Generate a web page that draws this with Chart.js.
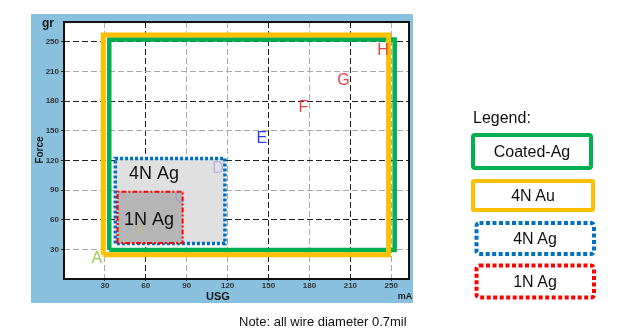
<!DOCTYPE html>
<html>
<head>
<meta charset="utf-8">
<script src="https://cdn.jsdelivr.net/npm/chart.js@4"></script>
<style>
  body { margin: 0; width: 619px; height: 332px; background: #fff; position: relative; overflow: hidden; font-family: Arial, "Liberation Sans", sans-serif; }
  #panel { position: absolute; left: 31px; top: 14px; width: 382px; height: 289px; background: #88c0de; }
  #legend { position: absolute; left: 0; top: 0; }
  #note { position: absolute; left: 239px; top: 314px; font-size: 13px; color: #111; white-space: nowrap; }
</style>
</head>
<body>
<div id="panel"><canvas id="chart"></canvas></div>
<svg id="legend" width="619" height="332"></svg>
<div id="note">Note: all wire diameter 0.7mil</div>
<script>
// Window boxes: [left, right] on USG, [bottom, top] on Force (grid units)
const boxNames = ['Coated-Ag', '4N Au', '4N Ag', '1N Ag'];
const boxUSG = [[33.2, 242.5], [28.8, 238], [37.6, 118], [39.3, 87]];
const boxForce = [[29.3, 242.4], [24.6, 246.8], [35.8, 122], [36.4, 88.2]];

// Test points A..H
const pointNames = ['A', 'B', 'C', 'D', 'E', 'F', 'G', 'H'];
const pointUSG = [24, 55, 85, 113, 145, 175.5, 205, 234];
const pointForce = [21, 50, 82, 112, 142.5, 173, 201, 231];

// Tick positions and the labels printed on them
const xTickValues = [30, 60, 90, 120, 150, 180, 210, 240];
const xTickLabels = ['30', '60', '90', '120', '150', '180', '210', '250'];
const yTickValues = [30, 60, 90, 120, 150, 180, 210, 240];
const yTickLabels = ['30', '60', '90', '120', '150', '180', '210', '250'];

// Text inside the boxes
const boxTextNames = ['4N Ag', '1N Ag'];
const boxTextUSG = [47.6, 44];
const boxTextForce = [106, 59.2];

// styles
const boxColors = ['#00b050', '#ffc000', '#0070c0', '#ff0000'];
const boxFills = [null, null, '#e0e0e0', '#b5b5b5'];
const boxWidths = [4.5, 5, 3.5, 2];
const boxDashes = [[], [], [3, 2], [5, 2, 2, 2]];
const boxOrder = [2, 1, 4, 3];
const pointColors = ['#92d050', 'rgba(200,190,90,0.35)', 'rgba(140,130,230,0.35)', 'rgba(140,130,230,0.45)',
                     '#2b3df0', '#f04040', '#f04040', '#f04040'];
const xGridColors = ['#aaa', '#222', '#aaa', '#aaa', '#222', '#aaa', '#222', '#aaa'];
const yGridColors = ['#aaa', '#222', '#aaa', '#222', '#aaa', '#222', '#aaa', '#222'];

function boxPath(i) {
    const [l, r] = boxUSG[i];
    const [b, t] = boxForce[i];
    return [{x: l, y: b}, {x: l, y: t}, {x: r, y: t}, {x: r, y: b}, {x: l, y: b}];
}

const datasets = boxNames.map((name, i) => ({
    label: name,
    data: boxPath(i),
    borderColor: boxColors[i],
    borderWidth: boxWidths[i],
    borderDash: boxDashes[i],
    borderJoinStyle: 'miter',
    backgroundColor: boxFills[i] || 'transparent',
    fill: boxFills[i] ? 'shape' : false,
    pointRadius: 0,
    tension: 0,
    order: boxOrder[i]
}));

const extras = {
    id: 'extras',
    beforeDraw(chart) {
        const {ctx, chartArea: a} = chart;
        ctx.save();
        ctx.fillStyle = '#fff';
        ctx.fillRect(a.left, a.top, a.right - a.left, a.bottom - a.top);
        ctx.restore();
    },
    afterDatasetsDraw(chart) {
        const {ctx, chartArea: a, scales: {x, y}} = chart;
        ctx.save();
        // letters
        ctx.font = '16px Arial';
        ctx.textAlign = 'center';
        ctx.textBaseline = 'middle';
        pointNames.forEach((n, i) => {
            ctx.fillStyle = pointColors[i];
            ctx.fillText(n, x.getPixelForValue(pointUSG[i]), y.getPixelForValue(pointForce[i]));
        });
        // box texts
        ctx.font = '18px Arial';
        ctx.textAlign = 'left';
        ctx.fillStyle = '#111';
        boxTextNames.forEach((n, i) => {
            ctx.fillText(n, x.getPixelForValue(boxTextUSG[i]), y.getPixelForValue(boxTextForce[i]));
        });
        // frame
        ctx.strokeStyle = '#111';
        ctx.lineWidth = 2;
        ctx.strokeRect(a.left, a.top, a.right - a.left, a.bottom - a.top);
        // axis captions
        ctx.fillStyle = '#1a1a1a';
        ctx.textAlign = 'center';
        ctx.font = 'bold 12px Arial';
        ctx.fillText('gr', 17, 10);
        ctx.font = 'bold 11px Arial';
        ctx.fillText('USG', 187, 283);
        ctx.font = 'bold 9px Arial';
        ctx.fillText('mA', 374, 283);
        ctx.translate(9, 136);
        ctx.rotate(-Math.PI / 2);
        ctx.font = 'bold 10px Arial';
        ctx.fillText('Force', 0, 0);
        ctx.restore();
    }
};

const tickFont = {family: 'Arial', size: 8, weight: 'bold'};

new Chart(document.getElementById('chart'), {
    type: 'line',
    data: {datasets},
    options: {
        responsive: true,
        maintainAspectRatio: false,
        animation: false,
        layout: {padding: {top: 8, right: 4, left: 0, bottom: 0}},
        plugins: {legend: {display: false}, tooltip: {enabled: false}},
        scales: {
            x: {
                type: 'linear',
                min: 0,
                max: 253,
                afterBuildTicks: s => { s.ticks = xTickValues.map(v => ({value: v})); },
                afterFit: s => { s.height = 24; },
                ticks: {
                    callback: (v, i) => xTickLabels[i],
                    font: tickFont,
                    color: '#333',
                    padding: 0,
                    maxRotation: 0
                },
                grid: {
                    color: c => xGridColors[c.index],
                    lineWidth: 1,
                    drawTicks: true,
                    tickLength: 2,
                    tickColor: '#222',
                    tickBorderDash: []
                },
                border: {display: false, dash: [6, 3]}
            },
            y: {
                type: 'linear',
                min: 0,
                max: 260,
                afterBuildTicks: s => { s.ticks = yTickValues.map(v => ({value: v})); },
                afterFit: s => { s.width = 33; },
                ticks: {
                    callback: (v, i) => yTickLabels[i],
                    font: tickFont,
                    color: '#333',
                    padding: 2
                },
                grid: {
                    color: c => yGridColors[c.index],
                    lineWidth: 1,
                    drawTicks: true,
                    tickLength: 3,
                    tickColor: '#222',
                    tickBorderDash: []
                },
                border: {display: false, dash: [6, 3]}
            }
        }
    },
    plugins: [extras]
});

// legend on the right
const legendBoxes = [
    {x: 473, y: 135, w: 118, h: 33, dash: '', rx: 2},
    {x: 473, y: 181, w: 120, h: 29, dash: '', rx: 1},
    {x: 476.5, y: 223, w: 117.5, h: 31, dash: '4 2.5', rx: 3},
    {x: 476.5, y: 265.5, w: 117.5, h: 32, dash: '4 2.5', rx: 3}
];
const legendTextX = [532, 533, 535, 535];
const svg = document.getElementById('legend');
let html = '<text x="473" y="123" font-family="Arial" font-size="16" fill="#111">Legend:</text>';
boxNames.forEach((n, i) => {
    const b = legendBoxes[i];
    html += `<rect x="${b.x}" y="${b.y}" width="${b.w}" height="${b.h}" rx="${b.rx}" fill="#fff" stroke="${boxColors[i]}" stroke-width="4" ${b.dash ? `stroke-dasharray="${b.dash}"` : ''}/>`;
    html += `<text x="${legendTextX[i]}" y="${b.y + b.h / 2 + 1}" text-anchor="middle" dominant-baseline="middle" font-family="Arial" font-size="16" fill="#111">${n}</text>`;
});
svg.innerHTML = html;
</script>
</body>
</html>
